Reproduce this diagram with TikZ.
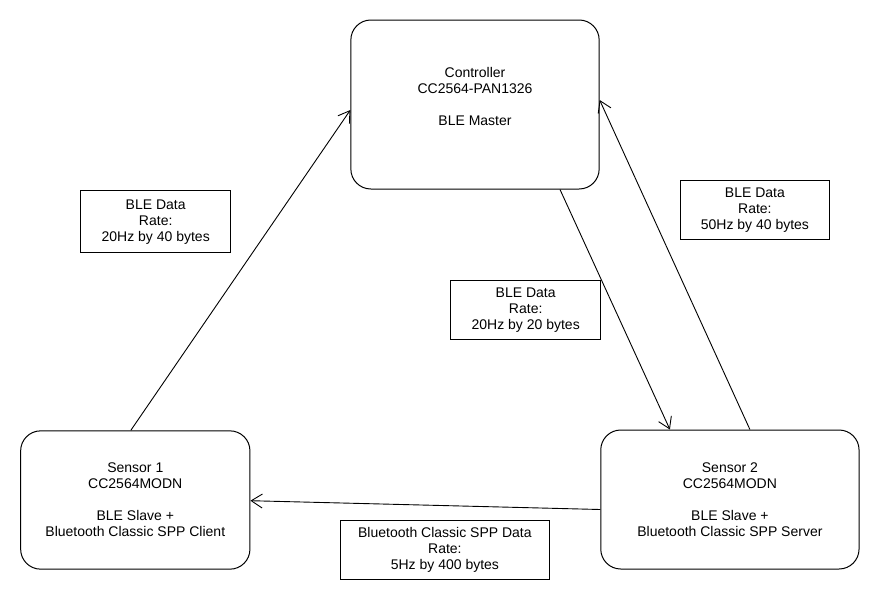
\documentclass[tikz,border=0pt]{standalone}
\usepackage{fontspec}
\setmainfont{Liberation Sans}
\usetikzlibrary{arrows.meta}
\begin{document}
\begin{tikzpicture}[x=1pt,y=-1pt,
  every node/.style={font=\fontsize{14}{16}\selectfont, align=center, inner sep=0pt},
  devbox/.style={draw, line width=1pt, rounded corners=20pt},
  ratebox/.style={draw, line width=1pt},
  link/.style={line width=0.9pt, -{Straight Barb[length=11pt,width=14pt,line width=0.9pt]}}
]
\useasboundingbox[fill=white] (0,0) rectangle (880,600);
\node[devbox, minimum width=248.3pt, minimum height=169pt] (ctrl) at (475,104.5)
  {Controller\\CC2564-PAN1326\\~\\BLE Master\\~};
\node[devbox, minimum width=229.3pt, minimum height=138.3pt] (s1) at (135.3,500)
  {Sensor 1\\CC2564MODN\\~\\BLE Slave +\\Bluetooth Classic SPP Client};
\node[devbox, minimum width=258.3pt, minimum height=139pt] (s2) at (729.9,499.5)
  {Sensor 2\\CC2564MODN\\~\\BLE Slave +\\Bluetooth Classic SPP Server};
\node[ratebox, minimum width=150pt, minimum height=62pt] (l1) at (155.7,221.7)
  {BLE Data\\Rate:\\20Hz by 40 bytes};
\node[ratebox, minimum width=148.3pt, minimum height=58.3pt] (l2) at (754.9,209.9)
  {BLE Data\\Rate:\\50Hz by 40 bytes};
\node[ratebox, minimum width=150pt, minimum height=58.3pt] (l3) at (525.7,309.9)
  {BLE Data\\Rate:\\20Hz by 20 bytes};
\node[ratebox, minimum width=208.3pt, minimum height=58.3pt] (l4) at (444.9,549.9)
  {Bluetooth Classic SPP Data\\Rate:\\5Hz by 400 bytes};
\draw[link] ([xshift=-4.5pt]s1.north) -- ([yshift=-5.5pt]ctrl.west);
\draw[link] ([xshift=20pt]s2.north) -- ([yshift=4.5pt]ctrl.east);
\draw[link] ([xshift=85pt]ctrl.south) -- ([xshift=-60pt]s2.north);
\draw[link] ([yshift=-10pt]s2.west) -- ([yshift=-0.7pt]s1.east);
\end{tikzpicture}
\end{document}
